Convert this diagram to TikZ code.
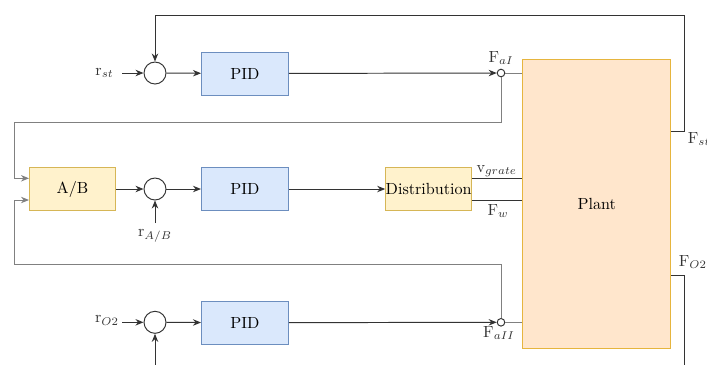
\documentclass[tikz,border=0pt]{standalone}
\usetikzlibrary{arrows.meta,calc}
\definecolor{pidfill}{HTML}{DAE8FC}
\definecolor{piddraw}{HTML}{6C8EBF}
\definecolor{yfill}{HTML}{FFF2CC}
\definecolor{ydraw}{HTML}{D6B656}
\definecolor{plfill}{HTML}{FFE6CC}
\definecolor{pldraw}{HTML}{E6B53E}
\definecolor{ln}{HTML}{333333}
\definecolor{lg}{HTML}{808080}
\tikzset{
  pidbox/.style={draw=piddraw,fill=pidfill,line width=0.6pt,minimum width=87*0.62pt,minimum height=43*0.62pt,inner sep=0pt},
  ybox/.style={draw=ydraw,fill=yfill,line width=0.6pt,minimum width=86*0.62pt,minimum height=43*0.62pt,inner sep=0pt},
  plantbox/.style={draw=pldraw,fill=plfill,line width=0.6pt,minimum width=148*0.62pt,minimum height=289*0.62pt,inner sep=0pt},
  sumc/.style={circle,draw=ln,line width=0.6pt,fill=white,minimum size=22*0.62pt,inner sep=0pt},
  tapc/.style={circle,draw=ln,line width=0.6pt,fill=white,minimum size=7.6*0.62pt,inner sep=0pt},
  lbl/.style={inner sep=1pt,text=ln},
  wire/.style={draw=ln,line width=0.6pt},
  gwire/.style={draw=lg,line width=0.6pt},
  arr/.style={wire,-{Stealth[length=5pt,width=4pt]}},
  garr/.style={gwire,-{Stealth[length=5pt,width=4pt]}}
}
\begin{document}
\begin{tikzpicture}[x=0.62pt,y=-0.62pt]
\path[use as bounding box,clip] (0,0) rectangle (707,364);
% nodes
\node[plantbox] (plant) at (596.7,203.5) {Plant};
\node[sumc] (sum1) at (155,73) {};
\node[sumc] (sum2) at (155,189) {};
\node[sumc] (sum3) at (155,322.3) {};
\node[pidbox] (pid1) at (245,73.5) {PID};
\node[pidbox] (pid2) at (245,189) {PID};
\node[pidbox] (pid3) at (245,322.7) {PID};
\node[ybox] (ab) at (72.5,189) {A/B};
\node[ybox] (dist) at (428.7,189) {Distribution};
\node[tapc] (tap1) at (501,73) {};
\node[tapc] (tap2) at (501,322.3) {};
% labels
\node[lbl,inner sep=0pt] (rst) at (104.5,73) {r$_{st}$};
\node[lbl,inner sep=0pt] (rab) at (155,236) {r$_{A/B}$};
\node[lbl,inner sep=0pt] (ro2) at (107,320.5) {r$_{O2}$};
\node[lbl] (faI) at (501,58) {F$_{aI}$};
\node[lbl] (faII) at (499,333) {F$_{aII}$};
\node[lbl] (vg) at (496.7,171) {v$_{grate}$};
\node[lbl] (fw) at (498,211) {F$_{w}$};
\node[lbl,anchor=west] (fst) at (686,139) {F$_{st}$};
\node[lbl,anchor=west] (fo2) at (677,262) {F$_{O2}$};
% coordinates
\coordinate (fstc) at (684,131);
\coordinate (topr) at (684,15);
\coordinate (fo2c) at (684,275.7);
\coordinate (fo2end) at (684,380);
\coordinate (in3) at (155,380);
\coordinate (l1) at (14,122);
\coordinate (l2) at (14,264);
\coordinate (rstend) at (122,73);
\coordinate (ro2end) at (122,322.3);
\coordinate (rabend) at (155,223);
% top row
\draw[arr] (rstend) -- (sum1.west);
\draw[arr] (sum1) -- (pid1);
\draw[arr] (pid1) -- (tap1.west);
\draw[gwire] (tap1.east) -- (plant.west |- tap1);
\draw[arr] (plant.east |- fstc) -- (fstc) -- (topr) -- (sum1 |- topr) -- (sum1.north);
% loop from tap1 to A/B
\draw[garr] (tap1.south) -- (tap1 |- l1) -- (l1) -- (l1 |- 0,178.3) -- (ab.west |- 0,178.3);
% middle row
\draw[arr] (ab) -- (sum2);
\draw[arr] (rabend) -- (sum2.south);
\draw[arr] (sum2) -- (pid2);
\draw[arr] (pid2) -- (dist);
\draw[wire] (dist.east |- 0,178.3) -- (plant.west |- 0,178.3);
\draw[wire] (dist.east |- 0,200.3) -- (plant.west |- 0,200.3);
% loop from tap2 to A/B
\draw[garr] (tap2.north) -- (tap2 |- l2) -- (l2) -- (l2 |- 0,200) -- (ab.west |- 0,200);
% bottom row
\draw[arr] (ro2end) -- (sum3.west);
\draw[arr] (in3) -- (sum3.south);
\draw[arr] (sum3) -- (pid3);
\draw[arr] (pid3) -- (tap2.west);
\draw[gwire] (tap2.east) -- (plant.west |- tap2);
\draw[wire] (plant.east |- fo2c) -- (fo2c) -- (fo2end);
\end{tikzpicture}
\end{document}
